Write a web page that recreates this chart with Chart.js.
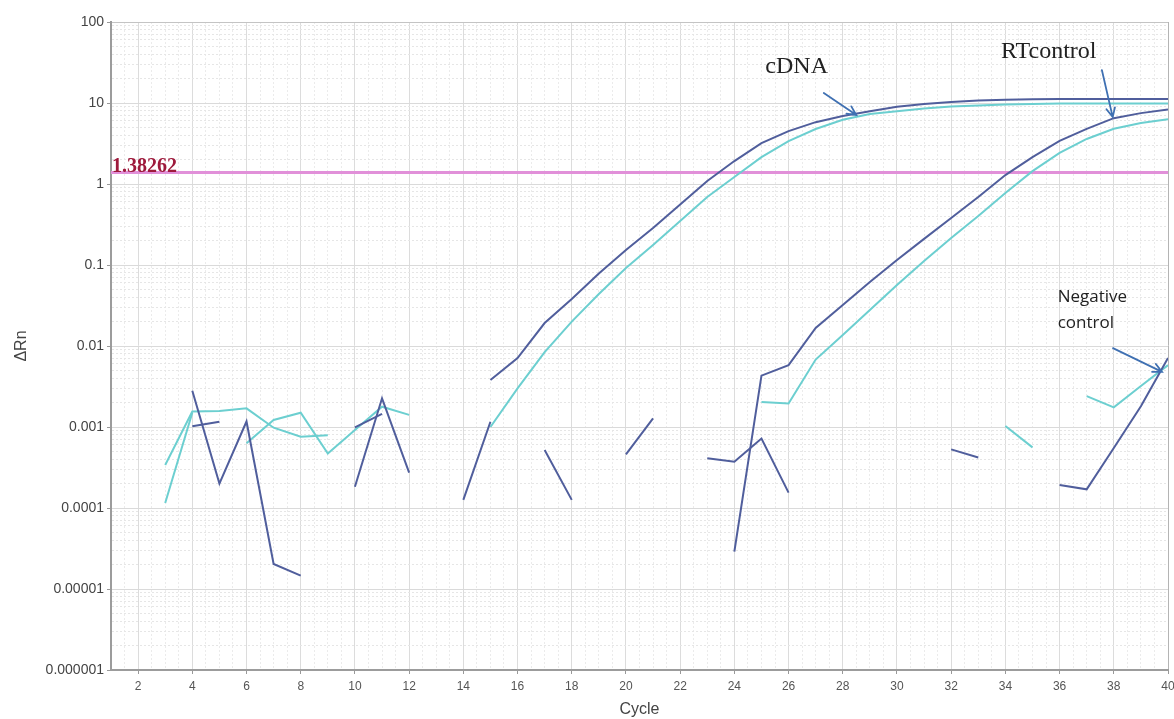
<!DOCTYPE html>
<html>
<head>
<meta charset="utf-8">
<script src="https://cdn.jsdelivr.net/npm/chart.js@4.4.1/dist/chart.umd.min.js"></script>
<style>
  html, body { margin: 0; padding: 0; background: #ffffff; }
  canvas { display: block; }
</style>
</head>
<body>
<canvas id="amp" width="1174" height="719"></canvas>
<script>
// PCR cycles on the x axis
const cycles = [1,2,3,4,5,6,7,8,9,10,11,12,13,14,15,16,17,18,19,20,
                21,22,23,24,25,26,27,28,29,30,31,32,33,34,35,36,37,38,39,40];

// ΔRn per cycle; null where the reading is not positive (not drawable on a log axis)
const cdnaDark = [null,null,null,0.0028,0.0002,0.00117,0.0000204,0.0000146,null,0.000183,
                  0.00226,0.000273,null,null,0.0038,0.0071,0.0192,0.038,0.0785,0.153,
                  0.286,0.558,1.09,1.92,3.2,4.5,5.8,6.9,7.9,9.0,
                  9.7,10.3,10.7,11.0,11.1,11.2,11.2,11.2,11.2,11.2];
const cdnaLight = [null,null,0.00034,0.00155,0.00158,0.0017,0.00098,0.00076,0.00079,null,
                   null,null,null,null,0.001,0.003,0.0084,0.02,0.0438,0.092,
                   0.177,0.349,0.69,1.22,2.15,3.39,4.78,6.2,7.3,7.9,
                   8.55,9.06,9.33,9.6,9.7,9.86,9.86,9.86,9.86,9.86];
const rtDark = [null,null,null,0.00102,0.00116,null,null,null,null,0.00099,
                0.00145,null,null,0.000126,0.00116,null,0.00052,0.000126,null,0.00046,
                0.00128,null,null,0.0000289,0.0043,0.0058,0.0167,0.032,0.0616,0.115,
                0.21,0.38,0.69,1.29,2.15,3.4,4.8,6.5,7.5,8.3];
const rtLight = [null,null,0.000115,0.0015,null,0.00063,0.00122,0.0015,0.00047,0.00092,
                 0.00178,0.00141,null,null,null,null,null,null,null,null,
                 null,null,null,null,0.00204,0.00195,0.0068,0.0137,0.0278,0.0566,
                 0.112,0.215,0.403,0.775,1.44,2.42,3.6,4.8,5.66,6.3];
const negDark = [null,null,null,null,null,null,null,null,null,null,
                 null,null,null,null,null,null,null,null,null,null,
                 null,null,0.00041,0.000373,0.00072,0.000155,null,null,null,null,
                 null,0.00053,0.00042,null,null,0.000192,0.00017,0.00055,0.0018,0.0071];
const negLight = [null,null,null,null,null,null,null,null,null,null,
                  null,null,null,null,null,null,null,null,null,null,
                  null,null,null,null,null,null,null,null,null,null,
                  null,null,null,0.00103,0.00056,null,0.00241,0.00175,0.0032,0.0058];

// detection threshold
const threshold = 1.38262;

// axis labels
const xLabelCycles = [2,4,6,8,10,12,14,16,18,20,22,24,26,28,30,32,34,36,38,40];
const yDecades = [0.000001,0.00001,0.0001,0.001,0.01,0.1,1,10,100];
const yDecadeLabels = ['0.000001','0.00001','0.0001','0.001','0.01','0.1','1','10','100'];

const DARK = '#505e9c';
const LIGHT = '#6ccfd0';

const toPoints = arr => cycles.map((c, i) => ({ x: c, y: arr[i] }));

function curve(label, arr, color) {
  return {
    label, data: toPoints(arr), borderColor: color, backgroundColor: color,
    borderWidth: 2, pointRadius: 0, tension: 0, spanGaps: false, fill: false
  };
}

// text callouts, anchored in data coordinates
const callouts = [
  { lines: ['cDNA'], c: 26.3, v: 27.8, font: '24px "Liberation Serif", serif', align: 'center', color: '#222' },
  { lines: ['RTcontrol'], c: 35.6, v: 42.6, font: '24px "Liberation Serif", serif', align: 'center', color: '#222' },
  { lines: ['Negative', 'control'], c: 35.93, v: 0.0403, v2: 0.0192, font: '17px "Open Sans", sans-serif', align: 'left', color: '#222' }
];
const arrows = [
  { from: [27.3, 13.3], to: [28.5, 7.1] },
  { from: [37.56, 25.5], to: [37.96, 6.7] },
  { from: [37.97, 0.0094], to: [39.78, 0.0048] }
];

const annotatePlugin = {
  id: 'annotate',
  afterDatasetsDraw(chart) {
    const { ctx, chartArea } = chart;
    const xs = chart.scales.x, ys = chart.scales.y;
    ctx.save();
    // threshold value label
    const ty = ys.getPixelForValue(threshold);
    ctx.font = 'bold 20px "Liberation Serif", serif';
    ctx.fillStyle = '#9e1a3c';
    ctx.textAlign = 'left';
    ctx.textBaseline = 'alphabetic';
    ctx.fillText(String(threshold), chartArea.left + 1, ty - 1);

    // callout texts
    callouts.forEach(n => {
      ctx.font = n.font;
      ctx.fillStyle = n.color;
      ctx.textAlign = n.align;
      ctx.textBaseline = 'middle';
      const x = xs.getPixelForValue(n.c);
      ctx.fillText(n.lines[0], x, ys.getPixelForValue(n.v));
      if (n.lines[1]) ctx.fillText(n.lines[1], x, ys.getPixelForValue(n.v2));
    });

    // arrows
    ctx.strokeStyle = '#3f70b2';
    ctx.lineWidth = 1.8;
    ctx.lineCap = 'round';
    arrows.forEach(a => {
      const x1 = xs.getPixelForValue(a.from[0]), y1 = ys.getPixelForValue(a.from[1]);
      const x2 = xs.getPixelForValue(a.to[0]), y2 = ys.getPixelForValue(a.to[1]);
      const ang = Math.atan2(y2 - y1, x2 - x1);
      const L = 10, spread = 0.45;
      ctx.beginPath();
      ctx.moveTo(x1, y1); ctx.lineTo(x2, y2);
      ctx.moveTo(x2 - L * Math.cos(ang - spread), y2 - L * Math.sin(ang - spread));
      ctx.lineTo(x2, y2);
      ctx.lineTo(x2 - L * Math.cos(ang + spread), y2 - L * Math.sin(ang + spread));
      ctx.stroke();
    });
    ctx.restore();
  }
};

const isLabelCycle = v => xLabelCycles.includes(v);
const isDecade = v => yDecades.includes(v);

new Chart(document.getElementById('amp'), {
  type: 'line',
  data: {
    datasets: [
      curve('cDNA', cdnaDark, DARK),
      curve('RTcontrol', rtDark, DARK),
      curve('Negative control', negDark, DARK),
      curve('cDNA (2)', cdnaLight, LIGHT),
      curve('RTcontrol (2)', rtLight, LIGHT),
      curve('Negative control (2)', negLight, LIGHT),
      {
        label: 'Threshold', data: cycles.map(c => ({ x: c, y: threshold })),
        borderColor: '#e190d9', borderWidth: 3, pointRadius: 0, tension: 0, fill: false
      }
    ]
  },
  options: {
    responsive: false,
    animation: false,
    devicePixelRatio: 1,
    layout: { padding: { left: 0, top: 22, right: 6, bottom: 0 } },
    plugins: { legend: { display: false }, tooltip: { enabled: false } },
    scales: {
      x: {
        type: 'linear', min: 1, max: 40,
        afterBuildTicks: scale => {
          const t = [];
          for (let v = 1; v <= 40; v += 0.5) t.push({ value: v });
          scale.ticks = t;
        },
        afterFit: scale => {
          scale.height = 49;
          scale.paddingLeft = 0;
          scale.paddingRight = 0;
        },
        ticks: {
          autoSkip: false, maxRotation: 0, padding: 5,
          color: '#555', font: { size: 12, family: '"Liberation Sans", Arial, sans-serif' },
          callback: v => isLabelCycle(v) ? String(v) : ''
        },
        grid: {
          color: ctx => {
            const v = ctx.tick ? ctx.tick.value : 0;
            if (v === 40) return '#b4b4b4';
            return Number.isInteger(v) && v % 2 === 0 ? '#dcdcdc' : '#ebebeb';
          },
          lineWidth: 1,
          tickLength: 4,
          tickColor: ctx => (ctx.tick && isLabelCycle(ctx.tick.value)) ? '#999' : 'rgba(0,0,0,0)'
        },
        border: {
          display: true, color: '#9c9c9c', width: 2,
          dash: ctx => {
            const v = ctx.tick ? ctx.tick.value : 0;
            return (!ctx.tick || (Number.isInteger(v) && v % 2 === 0) || v === 40) ? [] : [2, 2];
          }
        },
        title: {
          display: true, text: 'Cycle', color: '#444',
          font: { size: 16, family: '"Liberation Sans", Arial, sans-serif' },
          padding: { top: 0, bottom: 0 }
        }
      },
      y: {
        type: 'logarithmic', min: 0.000001, max: 100,
        afterBuildTicks: scale => {
          const t = [];
          yDecades.forEach(d => {
            t.push({ value: d });
            if (d < 100) for (let k = 2; k <= 9; k++) t.push({ value: k * d });
          });
          t.sort((a, b) => a.value - b.value);
          scale.ticks = t;
        },
        afterFit: scale => { scale.width = 111; },
        ticks: {
          autoSkip: false, padding: 3,
          color: '#444', font: { size: 14, family: '"Liberation Sans", Arial, sans-serif' },
          callback: v => {
            const i = yDecades.indexOf(v);
            return i >= 0 ? yDecadeLabels[i] : '';
          }
        },
        grid: {
          color: ctx => {
            const v = ctx.tick ? ctx.tick.value : 0;
            if (v === 100) return '#c4c4c4';
            return isDecade(v) ? '#dadada' : '#e6e6e6';
          },
          lineWidth: 1,
          tickLength: 4,
          tickColor: ctx => (ctx.tick && isDecade(ctx.tick.value)) ? '#999' : 'rgba(0,0,0,0)'
        },
        border: {
          display: true, color: '#9c9c9c', width: 2,
          dash: ctx => (!ctx.tick || isDecade(ctx.tick.value)) ? [] : [2, 2]
        },
        title: {
          display: true, text: 'ΔRn', color: '#444',
          font: { size: 16, family: '"Liberation Sans", Arial, sans-serif' },
          padding: { top: 12, bottom: 0 }
        }
      }
    }
  },
  plugins: [annotatePlugin]
});
</script>
</body>
</html>
